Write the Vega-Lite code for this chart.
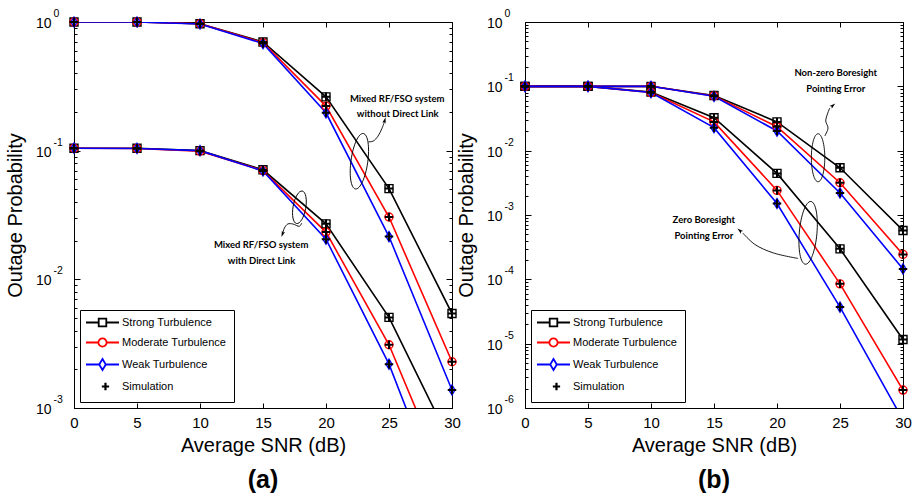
{
 "$schema": "https://vega.github.io/schema/vega-lite/v6.json",
 "background": "white",
 "padding": {"left": 4, "top": 8, "right": 5, "bottom": 5},
 "config": {
  "font": "Liberation Sans",
  "view": {"stroke": "black", "strokeWidth": 1},
  "axis": {"grid": false, "domainColor": "black", "domainWidth": 1, "tickColor": "black", "tickWidth": 1, "labelColor": "black", "titleColor": "black", "labelFont": "Liberation Sans", "titleFont": "Liberation Sans", "titleFontWeight": "normal", "labelFlush": false, "labelFontSize": 14, "titleFontSize": 20}
 },
 "datasets": {
  "a": [
   {"snr": 0, "p": 1.0, "turb": "Strong Turbulence", "sys": "without"},
   {"snr": 5, "p": 1.0, "turb": "Strong Turbulence", "sys": "without"},
   {"snr": 10, "p": 0.97, "turb": "Strong Turbulence", "sys": "without"},
   {"snr": 15, "p": 0.70, "turb": "Strong Turbulence", "sys": "without"},
   {"snr": 20, "p": 0.262, "turb": "Strong Turbulence", "sys": "without"},
   {"snr": 25, "p": 0.0507, "turb": "Strong Turbulence", "sys": "without"},
   {"snr": 30, "p": 0.00542, "turb": "Strong Turbulence", "sys": "without"},
   {"snr": 0, "p": 1.0, "turb": "Moderate Turbulence", "sys": "without"},
   {"snr": 5, "p": 1.0, "turb": "Moderate Turbulence", "sys": "without"},
   {"snr": 10, "p": 0.97, "turb": "Moderate Turbulence", "sys": "without"},
   {"snr": 15, "p": 0.69, "turb": "Moderate Turbulence", "sys": "without"},
   {"snr": 20, "p": 0.222, "turb": "Moderate Turbulence", "sys": "without"},
   {"snr": 25, "p": 0.0305, "turb": "Moderate Turbulence", "sys": "without"},
   {"snr": 30, "p": 0.00229, "turb": "Moderate Turbulence", "sys": "without"},
   {"snr": 0, "p": 1.0, "turb": "Weak Turbulence", "sys": "without"},
   {"snr": 5, "p": 1.0, "turb": "Weak Turbulence", "sys": "without"},
   {"snr": 10, "p": 0.965, "turb": "Weak Turbulence", "sys": "without"},
   {"snr": 15, "p": 0.68, "turb": "Weak Turbulence", "sys": "without"},
   {"snr": 20, "p": 0.197, "turb": "Weak Turbulence", "sys": "without"},
   {"snr": 25, "p": 0.0215, "turb": "Weak Turbulence", "sys": "without"},
   {"snr": 30, "p": 0.00138, "turb": "Weak Turbulence", "sys": "without"},
   {"snr": 0, "p": 0.1045, "turb": "Strong Turbulence", "sys": "with"},
   {"snr": 5, "p": 0.1045, "turb": "Strong Turbulence", "sys": "with"},
   {"snr": 10, "p": 0.1, "turb": "Strong Turbulence", "sys": "with"},
   {"snr": 15, "p": 0.071, "turb": "Strong Turbulence", "sys": "with"},
   {"snr": 20, "p": 0.027, "turb": "Strong Turbulence", "sys": "with"},
   {"snr": 25, "p": 0.00506, "turb": "Strong Turbulence", "sys": "with"},
   {"snr": 30, "p": 0.00051, "turb": "Strong Turbulence", "sys": "with"},
   {"snr": 0, "p": 0.1045, "turb": "Moderate Turbulence", "sys": "with"},
   {"snr": 5, "p": 0.104, "turb": "Moderate Turbulence", "sys": "with"},
   {"snr": 10, "p": 0.099, "turb": "Moderate Turbulence", "sys": "with"},
   {"snr": 15, "p": 0.070, "turb": "Moderate Turbulence", "sys": "with"},
   {"snr": 20, "p": 0.0233, "turb": "Moderate Turbulence", "sys": "with"},
   {"snr": 25, "p": 0.0031, "turb": "Moderate Turbulence", "sys": "with"},
   {"snr": 30, "p": 0.00021, "turb": "Moderate Turbulence", "sys": "with"},
   {"snr": 0, "p": 0.1045, "turb": "Weak Turbulence", "sys": "with"},
   {"snr": 5, "p": 0.104, "turb": "Weak Turbulence", "sys": "with"},
   {"snr": 10, "p": 0.1, "turb": "Weak Turbulence", "sys": "with"},
   {"snr": 15, "p": 0.0695, "turb": "Weak Turbulence", "sys": "with"},
   {"snr": 20, "p": 0.0205, "turb": "Weak Turbulence", "sys": "with"},
   {"snr": 25, "p": 0.00219, "turb": "Weak Turbulence", "sys": "with"},
   {"snr": 30, "p": 0.00012, "turb": "Weak Turbulence", "sys": "with"}
  ],
  "b": [
   {"snr": 0, "p": 0.1, "turb": "Strong Turbulence", "sys": "nonzero"},
   {"snr": 5, "p": 0.1, "turb": "Strong Turbulence", "sys": "nonzero"},
   {"snr": 10, "p": 0.1, "turb": "Strong Turbulence", "sys": "nonzero"},
   {"snr": 15, "p": 0.072, "turb": "Strong Turbulence", "sys": "nonzero"},
   {"snr": 20, "p": 0.028, "turb": "Strong Turbulence", "sys": "nonzero"},
   {"snr": 25, "p": 0.00542, "turb": "Strong Turbulence", "sys": "nonzero"},
   {"snr": 30, "p": 0.000575, "turb": "Strong Turbulence", "sys": "nonzero"},
   {"snr": 0, "p": 0.1, "turb": "Moderate Turbulence", "sys": "nonzero"},
   {"snr": 5, "p": 0.1, "turb": "Moderate Turbulence", "sys": "nonzero"},
   {"snr": 10, "p": 0.1, "turb": "Moderate Turbulence", "sys": "nonzero"},
   {"snr": 15, "p": 0.071, "turb": "Moderate Turbulence", "sys": "nonzero"},
   {"snr": 20, "p": 0.0236, "turb": "Moderate Turbulence", "sys": "nonzero"},
   {"snr": 25, "p": 0.00317, "turb": "Moderate Turbulence", "sys": "nonzero"},
   {"snr": 30, "p": 0.000244, "turb": "Moderate Turbulence", "sys": "nonzero"},
   {"snr": 0, "p": 0.1, "turb": "Weak Turbulence", "sys": "nonzero"},
   {"snr": 5, "p": 0.1, "turb": "Weak Turbulence", "sys": "nonzero"},
   {"snr": 10, "p": 0.1, "turb": "Weak Turbulence", "sys": "nonzero"},
   {"snr": 15, "p": 0.070, "turb": "Weak Turbulence", "sys": "nonzero"},
   {"snr": 20, "p": 0.0202, "turb": "Weak Turbulence", "sys": "nonzero"},
   {"snr": 25, "p": 0.0022, "turb": "Weak Turbulence", "sys": "nonzero"},
   {"snr": 30, "p": 0.000145, "turb": "Weak Turbulence", "sys": "nonzero"},
   {"snr": 0, "p": 0.1, "turb": "Strong Turbulence", "sys": "zero"},
   {"snr": 5, "p": 0.1, "turb": "Strong Turbulence", "sys": "zero"},
   {"snr": 10, "p": 0.0815, "turb": "Strong Turbulence", "sys": "zero"},
   {"snr": 15, "p": 0.0325, "turb": "Strong Turbulence", "sys": "zero"},
   {"snr": 20, "p": 0.00443, "turb": "Strong Turbulence", "sys": "zero"},
   {"snr": 25, "p": 0.000298, "turb": "Strong Turbulence", "sys": "zero"},
   {"snr": 30, "p": 0.0000116, "turb": "Strong Turbulence", "sys": "zero"},
   {"snr": 0, "p": 0.1, "turb": "Moderate Turbulence", "sys": "zero"},
   {"snr": 5, "p": 0.1, "turb": "Moderate Turbulence", "sys": "zero"},
   {"snr": 10, "p": 0.08, "turb": "Moderate Turbulence", "sys": "zero"},
   {"snr": 15, "p": 0.028, "turb": "Moderate Turbulence", "sys": "zero"},
   {"snr": 20, "p": 0.00241, "turb": "Moderate Turbulence", "sys": "zero"},
   {"snr": 25, "p": 0.000085, "turb": "Moderate Turbulence", "sys": "zero"},
   {"snr": 30, "p": 0.0000019, "turb": "Moderate Turbulence", "sys": "zero"},
   {"snr": 0, "p": 0.1, "turb": "Weak Turbulence", "sys": "zero"},
   {"snr": 5, "p": 0.1, "turb": "Weak Turbulence", "sys": "zero"},
   {"snr": 10, "p": 0.08, "turb": "Weak Turbulence", "sys": "zero"},
   {"snr": 15, "p": 0.0228, "turb": "Weak Turbulence", "sys": "zero"},
   {"snr": 20, "p": 0.00151, "turb": "Weak Turbulence", "sys": "zero"},
   {"snr": 25, "p": 0.000037, "turb": "Weak Turbulence", "sys": "zero"},
   {"snr": 30, "p": 0.00000065, "turb": "Weak Turbulence", "sys": "zero"}
  ],
  "notesA": [
   {"x": 25.65, "y": 0.2517, "label": "Mixed RF/FSO system"},
   {"x": 25.69, "y": 0.1913, "label": "without Direct Link"},
   {"x": 14.85, "y": 0.01862, "label": "Mixed RF/FSO system"},
   {"x": 14.88, "y": 0.01397, "label": "with Direct Link"}
  ],
  "notesB": [
   {"x": 24.66, "y": 0.1628, "label": "Non-zero Boresight"},
   {"x": 24.66, "y": 0.0918, "label": "Pointing Error"},
   {"x": 14.19, "y": 0.000833, "label": "Zero Boresight"},
   {"x": 14.2, "y": 0.00047, "label": "Pointing Error"}
  ],
  "arrowsA": [
   {"arrow": "u", "idx": 0, "x": 23.36, "y": 0.1171},
   {"arrow": "u", "idx": 1, "x": 23.74, "y": 0.1186},
   {"arrow": "u", "idx": 2, "x": 24.13, "y": 0.1297},
   {"arrow": "u", "idx": 3, "x": 24.45, "y": 0.1497},
   {"arrow": "u", "idx": 4, "x": 24.63, "y": 0.1667},
   {"arrow": "l", "idx": 0, "x": 18.08, "y": 0.02742},
   {"arrow": "l", "idx": 1, "x": 17.89, "y": 0.02585},
   {"arrow": "l", "idx": 2, "x": 17.37, "y": 0.02693},
   {"arrow": "l", "idx": 3, "x": 16.97, "y": 0.02693},
   {"arrow": "l", "idx": 4, "x": 16.70, "y": 0.02506},
   {"arrow": "l", "idx": 5, "x": 16.57, "y": 0.02292}
  ],
  "arrowsB": [
   {"arrow": "n", "idx": 0, "x": 23.79, "y": 0.01687},
   {"arrow": "n", "idx": 1, "x": 24.05, "y": 0.02246},
   {"arrow": "n", "idx": 2, "x": 23.87, "y": 0.02886},
   {"arrow": "n", "idx": 3, "x": 24.03, "y": 0.03845},
   {"arrow": "n", "idx": 4, "x": 24.19, "y": 0.046},
   {"arrow": "z", "idx": 0, "x": 21.67, "y": 0.0002113},
   {"arrow": "z", "idx": 1, "x": 19.69, "y": 0.000258},
   {"arrow": "z", "idx": 2, "x": 18.24, "y": 0.000349},
   {"arrow": "z", "idx": 3, "x": 17.29, "y": 0.000523}
  ]
 },
 "hconcat": [
  {
   "width": 378, "height": 386,
   "title": {"text": "(a)", "orient": "bottom", "fontSize": 25, "fontWeight": "bold", "font": "Liberation Sans", "color": "black", "offset": 13},
   "resolve": {"axis": {"x": "independent", "y": "independent"}},
   "layer": [
    {
     "data": {"name": "a"},
     "mark": {"type": "line", "clip": true, "strokeWidth": 1.6},
     "encoding": {
      "x": {"field": "snr", "type": "quantitative", "scale": {"domain": [0, 30], "nice": false, "zero": false}, "axis": {"orient": "bottom", "values": [0, 5, 10, 15, 20, 25, 30], "tickSize": -5, "labelPadding": 12, "labelFontSize": 15, "title": "Average SNR (dB)", "titlePadding": 5}},
      "y": {"field": "p", "type": "quantitative", "scale": {"type": "log", "domain": [0.001, 1], "nice": false}, "axis": {"orient": "left", "values": [0.001,0.002,0.003,0.004,0.005,0.006,0.007,0.008,0.009,0.01,0.02,0.03,0.04,0.05,0.06,0.07,0.08,0.09,0.1,0.2,0.3,0.4,0.5,0.6,0.7,0.8,0.9,1], "tickSize": {"condition": {"test": "abs(log(datum.value)/LN10 - round(log(datum.value)/LN10)) < 0.001", "value": -6}, "value": -3}, "labelExpr": "abs(log(datum.value)/LN10 - round(log(datum.value)/LN10)) < 0.001 ? '10' : ''", "labelPadding": 29, "labelOffset": 1.5, "labelOverlap": false, "title": "Outage Probability", "titlePadding": 10}},
      "color": {"field": "turb", "type": "nominal", "scale": {"domain": ["Strong Turbulence", "Moderate Turbulence", "Weak Turbulence", "Simulation"], "range": ["#000000", "#ff0000", "#0000ff", "#000000"]},
       "legend": {"title": null, "orient": "bottom-left", "offset": 6, "padding": 7, "strokeColor": "black", "fillColor": "white", "cornerRadius": 0, "labelFont": "Liberation Sans", "labelFontSize": 11, "labelColor": "black", "symbolSize": 100, "symbolOffset": 10, "labelOffset": 14, "rowPadding": 4, "symbolStrokeWidth": 1.8, "symbolOpacity": 1,
        "encode": {"symbols": {"update": {
         "shape": {"signal": "datum.value === 'Strong Turbulence' ? 'M-1,0L-0.23,0M-0.23,-0.23L0.23,-0.23L0.23,0.23L-0.23,0.23ZM0.23,0L1,0' : datum.value === 'Moderate Turbulence' ? 'M-1,0L-0.25,0C-0.25,-0.138 -0.138,-0.25 0,-0.25C0.138,-0.25 0.25,-0.138 0.25,0C0.25,0.138 0.138,0.25 0,0.25C-0.138,0.25 -0.25,0.138 -0.25,0ZM0.25,0L1,0' : datum.value === 'Weak Turbulence' ? 'M-1,0L-0.2,0M0,-0.33L0.2,0L0,0.33L-0.2,0ZM0.2,0L1,0' : 'M-0.04,0L0.4,0M0.18,-0.22L0.18,0.22'"},
         "size": {"value": 1089},
         "fill": {"value": "transparent"},
         "stroke": {"signal": "datum.value === 'Moderate Turbulence' ? '#ff0000' : datum.value === 'Weak Turbulence' ? '#0000ff' : '#000000'"},
         "strokeWidth": {"signal": "datum.value === 'Simulation' ? 2.2 : 1.8"},
         "opacity": {"value": 1}
        }}}}},
      "detail": {"field": "sys"}
     }
    },
    {
     "data": {"name": "a"},
     "transform": [{"filter": "datum.p >= 0.001"}],
     "mark": {"type": "point", "opacity": 0},
     "encoding": {
      "x": {"field": "snr", "type": "quantitative", "scale": {"domain": [0, 30], "nice": false, "zero": false}, "axis": {"orient": "top", "values": [0, 5, 10, 15, 20, 25, 30], "tickSize": -5, "labels": false, "domain": false, "title": null}},
      "y": {"field": "p", "type": "quantitative", "scale": {"type": "log", "domain": [0.001, 1], "nice": false}, "axis": {"orient": "right", "values": [0.001,0.002,0.003,0.004,0.005,0.006,0.007,0.008,0.009,0.01,0.02,0.03,0.04,0.05,0.06,0.07,0.08,0.09,0.1,0.2,0.3,0.4,0.5,0.6,0.7,0.8,0.9,1], "tickSize": {"condition": {"test": "abs(log(datum.value)/LN10 - round(log(datum.value)/LN10)) < 0.001", "value": -6}, "value": -3}, "labels": false, "domain": false, "title": null}}
     }
    },
    {
     "data": {"name": "a"},
     "transform": [{"filter": "datum.p >= 0.001"}],
     "mark": {"type": "point", "opacity": 0},
     "encoding": {
      "x": {"field": "snr", "type": "quantitative", "scale": {"domain": [0, 30], "nice": false, "zero": false}, "axis": null},
      "y": {"field": "p", "type": "quantitative", "scale": {"type": "log", "domain": [0.001, 1], "nice": false}, "axis": {"orient": "left", "values": [0.001, 0.01, 0.1, 1], "ticks": false, "domain": false, "labelAlign": "left", "labelBaseline": "middle", "labelPadding": 21, "labelOffset": -8.5, "labelFontSize": 10.5, "labelOverlap": false, "labelExpr": "round(log(datum.value)/LN10) == 0 ? '0' : '-' + abs(round(log(datum.value)/LN10))", "title": null}}
     }
    },
    {
     "data": {"name": "a"},
     "transform": [{"filter": "datum.p >= 0.001"}],
     "mark": {"type": "point", "filled": false, "strokeWidth": 1.4, "size": 64, "opacity": 1},
     "encoding": {
      "x": {"field": "snr", "type": "quantitative", "scale": {"domain": [0, 30], "nice": false, "zero": false}, "axis": null},
      "y": {"field": "p", "type": "quantitative", "scale": {"type": "log", "domain": [0.001, 1], "nice": false}, "axis": null},
      "color": {"field": "turb", "type": "nominal", "scale": {"domain": ["Strong Turbulence", "Moderate Turbulence", "Weak Turbulence", "Simulation"], "range": ["#000000", "#ff0000", "#0000ff", "#000000"]}},
      "shape": {"field": "turb", "type": "nominal", "scale": {"domain": ["Strong Turbulence", "Moderate Turbulence", "Weak Turbulence"], "range": ["square", "circle", "M0,-1.25L0.75,0L0,1.25L-0.75,0Z"]}, "legend": null}
     }
    },
    {
     "data": {"name": "a"},
     "transform": [{"filter": "datum.p >= 0.001"}],
     "mark": {"type": "point", "shape": "M-1,0L1,0M0,-1L0,1", "filled": false, "color": "black", "strokeWidth": 2, "size": 72, "opacity": 1},
     "encoding": {
      "x": {"field": "snr", "type": "quantitative", "scale": {"domain": [0, 30], "nice": false, "zero": false}, "axis": null},
      "y": {"field": "p", "type": "quantitative", "scale": {"type": "log", "domain": [0.001, 1], "nice": false}, "axis": null}
     }
    },
    {
     "data": {"values": [{}]},
     "mark": {"type": "point", "shape": "M0,-1C0.1657,-1 0.3,-0.5523 0.3,0C0.3,0.5523 0.1657,1 0,1C-0.1657,1 -0.3,0.5523 -0.3,0C-0.3,-0.5523 -0.1657,-1 0,-1Z", "filled": false, "color": "black", "strokeWidth": 0.9, "size": 3136, "angle": 8, "opacity": 1},
     "encoding": {
      "x": {"datum": 22.65, "type": "quantitative", "scale": {"domain": [0, 30], "nice": false, "zero": false}, "axis": null},
      "y": {"datum": 0.0828, "type": "quantitative", "scale": {"type": "log", "domain": [0.001, 1], "nice": false}, "axis": null}
     }
    },
    {
     "data": {"values": [{}]},
     "mark": {"type": "point", "shape": "M0,-1C0.2126,-1 0.385,-0.5523 0.385,0C0.385,0.5523 0.2126,1 0,1C-0.2126,1 -0.385,0.5523 -0.385,0C-0.385,-0.5523 -0.2126,-1 0,-1Z", "filled": false, "color": "black", "strokeWidth": 0.9, "size": 1089, "angle": 10, "opacity": 1},
     "encoding": {
      "x": {"datum": 17.89, "type": "quantitative", "scale": {"domain": [0, 30], "nice": false, "zero": false}, "axis": null},
      "y": {"datum": 0.0363, "type": "quantitative", "scale": {"type": "log", "domain": [0.001, 1], "nice": false}, "axis": null}
     }
    },
    {
     "data": {"name": "arrowsA"},
     "mark": {"type": "line", "color": "black", "strokeWidth": 0.9, "interpolate": "catmull-rom"},
     "encoding": {
      "x": {"field": "x", "type": "quantitative", "scale": {"domain": [0, 30], "nice": false, "zero": false}, "axis": null},
      "y": {"field": "y", "type": "quantitative", "scale": {"type": "log", "domain": [0.001, 1], "nice": false}, "axis": null},
      "detail": {"field": "arrow"},
      "order": {"field": "idx", "type": "quantitative"}
     }
    },
    {
     "data": {"values": [{}]},
     "mark": {"type": "point", "shape": "M0,-1L0.55,0.9L0,0.5L-0.55,0.9Z", "filled": true, "color": "black", "size": 40, "angle": 15, "opacity": 1},
     "encoding": {
      "x": {"datum": 24.66, "type": "quantitative", "scale": {"domain": [0, 30], "nice": false, "zero": false}, "axis": null},
      "y": {"datum": 0.172, "type": "quantitative", "scale": {"type": "log", "domain": [0.001, 1], "nice": false}, "axis": null}
     }
    },
    {
     "data": {"values": [{}]},
     "mark": {"type": "point", "shape": "M0,-1L0.55,0.9L0,0.5L-0.55,0.9Z", "filled": true, "color": "black", "size": 40, "angle": 200, "opacity": 1},
     "encoding": {
      "x": {"datum": 16.55, "type": "quantitative", "scale": {"domain": [0, 30], "nice": false, "zero": false}, "axis": null},
      "y": {"datum": 0.0225, "type": "quantitative", "scale": {"type": "log", "domain": [0.001, 1], "nice": false}, "axis": null}
     }
    },
    {
     "data": {"name": "notesA"},
     "mark": {"type": "text", "font": "Lato", "fontWeight": "bold", "fontSize": 9.5, "color": "black", "align": "center", "baseline": "middle"},
     "encoding": {
      "x": {"field": "x", "type": "quantitative", "scale": {"domain": [0, 30], "nice": false, "zero": false}, "axis": null},
      "y": {"field": "y", "type": "quantitative", "scale": {"type": "log", "domain": [0.001, 1], "nice": false}, "axis": null},
      "text": {"field": "label"}
     }
    }
   ]
  },
  {
   "width": 378, "height": 386,
   "title": {"text": "(b)", "orient": "bottom", "fontSize": 25, "fontWeight": "bold", "font": "Liberation Sans", "color": "black", "offset": 13},
   "resolve": {"axis": {"x": "independent", "y": "independent"}},
   "layer": [
    {
     "data": {"name": "b"},
     "mark": {"type": "line", "clip": true, "strokeWidth": 1.6},
     "encoding": {
      "x": {"field": "snr", "type": "quantitative", "scale": {"domain": [0, 30], "nice": false, "zero": false}, "axis": {"orient": "bottom", "values": [0, 5, 10, 15, 20, 25, 30], "tickSize": -5, "labelPadding": 12, "labelFontSize": 15, "title": "Average SNR (dB)", "titlePadding": 5}},
      "y": {"field": "p", "type": "quantitative", "scale": {"type": "log", "domain": [0.000001, 1], "nice": false}, "axis": {"orient": "left", "values": [0.000001,0.000002,0.000003,0.000004,0.000005,0.000006,0.000007,0.000008,0.000009,0.00001,0.00002,0.00003,0.00004,0.00005,0.00006,0.00007,0.00008,0.00009,0.0001,0.0002,0.0003,0.0004,0.0005,0.0006,0.0007,0.0008,0.0009,0.001,0.002,0.003,0.004,0.005,0.006,0.007,0.008,0.009,0.01,0.02,0.03,0.04,0.05,0.06,0.07,0.08,0.09,0.1,0.2,0.3,0.4,0.5,0.6,0.7,0.8,0.9,1], "tickSize": {"condition": {"test": "abs(log(datum.value)/LN10 - round(log(datum.value)/LN10)) < 0.001", "value": -6}, "value": -3}, "labelExpr": "abs(log(datum.value)/LN10 - round(log(datum.value)/LN10)) < 0.001 ? '10' : ''", "labelPadding": 29, "labelOffset": 1.5, "labelOverlap": false, "title": "Outage Probability", "titlePadding": 10}},
      "color": {"field": "turb", "type": "nominal", "scale": {"domain": ["Strong Turbulence", "Moderate Turbulence", "Weak Turbulence", "Simulation"], "range": ["#000000", "#ff0000", "#0000ff", "#000000"]},
       "legend": {"title": null, "orient": "bottom-left", "offset": 6, "padding": 7, "strokeColor": "black", "fillColor": "white", "cornerRadius": 0, "labelFont": "Liberation Sans", "labelFontSize": 11, "labelColor": "black", "symbolSize": 100, "symbolOffset": 10, "labelOffset": 14, "rowPadding": 4, "symbolStrokeWidth": 1.8, "symbolOpacity": 1,
        "encode": {"symbols": {"update": {
         "shape": {"signal": "datum.value === 'Strong Turbulence' ? 'M-1,0L-0.23,0M-0.23,-0.23L0.23,-0.23L0.23,0.23L-0.23,0.23ZM0.23,0L1,0' : datum.value === 'Moderate Turbulence' ? 'M-1,0L-0.25,0C-0.25,-0.138 -0.138,-0.25 0,-0.25C0.138,-0.25 0.25,-0.138 0.25,0C0.25,0.138 0.138,0.25 0,0.25C-0.138,0.25 -0.25,0.138 -0.25,0ZM0.25,0L1,0' : datum.value === 'Weak Turbulence' ? 'M-1,0L-0.2,0M0,-0.33L0.2,0L0,0.33L-0.2,0ZM0.2,0L1,0' : 'M-0.04,0L0.4,0M0.18,-0.22L0.18,0.22'"},
         "size": {"value": 1089},
         "fill": {"value": "transparent"},
         "stroke": {"signal": "datum.value === 'Moderate Turbulence' ? '#ff0000' : datum.value === 'Weak Turbulence' ? '#0000ff' : '#000000'"},
         "strokeWidth": {"signal": "datum.value === 'Simulation' ? 2.2 : 1.8"},
         "opacity": {"value": 1}
        }}}}},
      "detail": {"field": "sys"}
     }
    },
    {
     "data": {"name": "b"},
     "transform": [{"filter": "datum.p >= 0.000001"}],
     "mark": {"type": "point", "opacity": 0},
     "encoding": {
      "x": {"field": "snr", "type": "quantitative", "scale": {"domain": [0, 30], "nice": false, "zero": false}, "axis": {"orient": "top", "values": [0, 5, 10, 15, 20, 25, 30], "tickSize": -5, "labels": false, "domain": false, "title": null}},
      "y": {"field": "p", "type": "quantitative", "scale": {"type": "log", "domain": [0.000001, 1], "nice": false}, "axis": {"orient": "right", "values": [0.000001,0.000002,0.000003,0.000004,0.000005,0.000006,0.000007,0.000008,0.000009,0.00001,0.00002,0.00003,0.00004,0.00005,0.00006,0.00007,0.00008,0.00009,0.0001,0.0002,0.0003,0.0004,0.0005,0.0006,0.0007,0.0008,0.0009,0.001,0.002,0.003,0.004,0.005,0.006,0.007,0.008,0.009,0.01,0.02,0.03,0.04,0.05,0.06,0.07,0.08,0.09,0.1,0.2,0.3,0.4,0.5,0.6,0.7,0.8,0.9,1], "tickSize": {"condition": {"test": "abs(log(datum.value)/LN10 - round(log(datum.value)/LN10)) < 0.001", "value": -6}, "value": -3}, "labels": false, "domain": false, "title": null}}
     }
    },
    {
     "data": {"name": "b"},
     "transform": [{"filter": "datum.p >= 0.000001"}],
     "mark": {"type": "point", "opacity": 0},
     "encoding": {
      "x": {"field": "snr", "type": "quantitative", "scale": {"domain": [0, 30], "nice": false, "zero": false}, "axis": null},
      "y": {"field": "p", "type": "quantitative", "scale": {"type": "log", "domain": [0.000001, 1], "nice": false}, "axis": {"orient": "left", "values": [0.000001, 0.00001, 0.0001, 0.001, 0.01, 0.1, 1], "ticks": false, "domain": false, "labelAlign": "left", "labelBaseline": "middle", "labelPadding": 21, "labelOffset": -8.5, "labelFontSize": 10.5, "labelOverlap": false, "labelExpr": "round(log(datum.value)/LN10) == 0 ? '0' : '-' + abs(round(log(datum.value)/LN10))", "title": null}}
     }
    },
    {
     "data": {"name": "b"},
     "transform": [{"filter": "datum.p >= 0.000001"}],
     "mark": {"type": "point", "filled": false, "strokeWidth": 1.4, "size": 64, "opacity": 1},
     "encoding": {
      "x": {"field": "snr", "type": "quantitative", "scale": {"domain": [0, 30], "nice": false, "zero": false}, "axis": null},
      "y": {"field": "p", "type": "quantitative", "scale": {"type": "log", "domain": [0.000001, 1], "nice": false}, "axis": null},
      "color": {"field": "turb", "type": "nominal", "scale": {"domain": ["Strong Turbulence", "Moderate Turbulence", "Weak Turbulence", "Simulation"], "range": ["#000000", "#ff0000", "#0000ff", "#000000"]}},
      "shape": {"field": "turb", "type": "nominal", "scale": {"domain": ["Strong Turbulence", "Moderate Turbulence", "Weak Turbulence"], "range": ["square", "circle", "M0,-1.25L0.75,0L0,1.25L-0.75,0Z"]}, "legend": null}
     }
    },
    {
     "data": {"name": "b"},
     "transform": [{"filter": "datum.p >= 0.000001"}],
     "mark": {"type": "point", "shape": "M-1,0L1,0M0,-1L0,1", "filled": false, "color": "black", "strokeWidth": 2, "size": 72, "opacity": 1},
     "encoding": {
      "x": {"field": "snr", "type": "quantitative", "scale": {"domain": [0, 30], "nice": false, "zero": false}, "axis": null},
      "y": {"field": "p", "type": "quantitative", "scale": {"type": "log", "domain": [0.000001, 1], "nice": false}, "axis": null}
     }
    },
    {
     "data": {"values": [{}]},
     "mark": {"type": "point", "shape": "M0,-1C0.1546,-1 0.28,-0.5523 0.28,0C0.28,0.5523 0.1546,1 0,1C-0.1546,1 -0.28,0.5523 -0.28,0C-0.28,-0.5523 -0.1546,-1 0,-1Z", "filled": false, "color": "black", "strokeWidth": 0.9, "size": 2304, "angle": 0, "opacity": 1},
     "encoding": {
      "x": {"datum": 23.26, "type": "quantitative", "scale": {"domain": [0, 30], "nice": false, "zero": false}, "axis": null},
      "y": {"datum": 0.00776, "type": "quantitative", "scale": {"type": "log", "domain": [0.000001, 1], "nice": false}, "axis": null}
     }
    },
    {
     "data": {"values": [{}]},
     "mark": {"type": "point", "shape": "M0,-1C0.1546,-1 0.28,-0.5523 0.28,0C0.28,0.5523 0.1546,1 0,1C-0.1546,1 -0.28,0.5523 -0.28,0C-0.28,-0.5523 -0.1546,-1 0,-1Z", "filled": false, "color": "black", "strokeWidth": 0.9, "size": 3969, "angle": 5, "opacity": 1},
     "encoding": {
      "x": {"datum": 22.47, "type": "quantitative", "scale": {"domain": [0, 30], "nice": false, "zero": false}, "axis": null},
      "y": {"datum": 0.000528, "type": "quantitative", "scale": {"type": "log", "domain": [0.000001, 1], "nice": false}, "axis": null}
     }
    },
    {
     "data": {"name": "arrowsB"},
     "mark": {"type": "line", "color": "black", "strokeWidth": 0.9, "interpolate": "catmull-rom"},
     "encoding": {
      "x": {"field": "x", "type": "quantitative", "scale": {"domain": [0, 30], "nice": false, "zero": false}, "axis": null},
      "y": {"field": "y", "type": "quantitative", "scale": {"type": "log", "domain": [0.000001, 1], "nice": false}, "axis": null},
      "detail": {"field": "arrow"},
      "order": {"field": "idx", "type": "quantitative"}
     }
    },
    {
     "data": {"values": [{}]},
     "mark": {"type": "point", "shape": "M0,-1L0.55,0.9L0,0.5L-0.55,0.9Z", "filled": true, "color": "black", "size": 40, "angle": 50, "opacity": 1},
     "encoding": {
      "x": {"datum": 24.43, "type": "quantitative", "scale": {"domain": [0, 30], "nice": false, "zero": false}, "axis": null},
      "y": {"datum": 0.0503, "type": "quantitative", "scale": {"type": "log", "domain": [0.000001, 1], "nice": false}, "axis": null}
     }
    },
    {
     "data": {"values": [{}]},
     "mark": {"type": "point", "shape": "M0,-1L0.55,0.9L0,0.5L-0.55,0.9Z", "filled": true, "color": "black", "size": 40, "angle": -50, "opacity": 1},
     "encoding": {
      "x": {"datum": 17.05, "type": "quantitative", "scale": {"domain": [0, 30], "nice": false, "zero": false}, "axis": null},
      "y": {"datum": 0.000572, "type": "quantitative", "scale": {"type": "log", "domain": [0.000001, 1], "nice": false}, "axis": null}
     }
    },
    {
     "data": {"name": "notesB"},
     "mark": {"type": "text", "font": "Lato", "fontWeight": "bold", "fontSize": 9.5, "color": "black", "align": "center", "baseline": "middle"},
     "encoding": {
      "x": {"field": "x", "type": "quantitative", "scale": {"domain": [0, 30], "nice": false, "zero": false}, "axis": null},
      "y": {"field": "y", "type": "quantitative", "scale": {"type": "log", "domain": [0.000001, 1], "nice": false}, "axis": null},
      "text": {"field": "label"}
     }
    }
   ]
  }
 ],
 "spacing": -6,
 "resolve": {"scale": {"color": "independent", "shape": "independent"}, "legend": {"color": "independent"}}
}
